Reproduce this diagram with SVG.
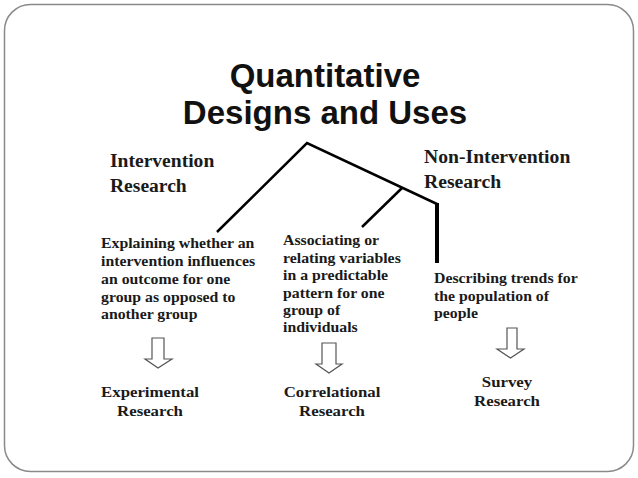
<svg xmlns="http://www.w3.org/2000/svg" width="638" height="478" viewBox="0 0 638 478">
<style>
.title{font-family:"Liberation Sans",Arial,sans-serif;font-weight:bold;font-size:33px;fill:#111;text-anchor:middle}
.head{font-family:"Liberation Serif","Times New Roman",serif;font-weight:bold;font-size:19px;fill:#1a1a1a}
.body{font-family:"Liberation Serif","Times New Roman",serif;font-weight:bold;font-size:14px;fill:#1a1a1a}
.lab{font-family:"Liberation Serif","Times New Roman",serif;font-weight:bold;font-size:15px;fill:#1a1a1a;text-anchor:middle}
.arrow{fill:#fff;stroke:#555;stroke-width:1.2}
.ln{stroke:#000;stroke-width:2.5;fill:none}
</style>
<rect x="4.5" y="4.5" width="629" height="467" rx="26" ry="26" fill="#fff" stroke="#8a8a8a" stroke-width="1.5"/>
<g id="title">
<text class="title" x="325" y="87">Quantitative</text>
<text class="title" x="325" y="124">Designs and Uses</text>
</g>
<g id="connectors">
<polyline class="ln" points="217,232 307,143 437,204"/>
<line class="ln" x1="402" y1="188" x2="362" y2="227"/>
<line x1="437" y1="203" x2="437" y2="263" stroke="#000" stroke-width="4"/>
<polygon class="arrow" points="152,338 164,338 164,359 172,359 158,368 145,359 152,359"/>
<polygon class="arrow" points="322,343 336,343 336,364 342,364 329,373 316,364 322,364"/>
<polygon class="arrow" points="507,328 517,328 517,349 524,349 510.5,358 497,349 507,349"/>
</g>
<g id="intervention" transform="translate(110 0) scale(1.03 1)">
<text class="head" x="0" y="167">Intervention</text>
<text class="head" x="0" y="192">Research</text>
</g>
<g id="non-intervention" transform="translate(424 0) scale(1.035 1)">
<text class="head" x="0" y="163">Non-Intervention</text>
<text class="head" x="0" y="188">Research</text>
</g>
<g id="explaining" transform="translate(101 0) scale(1.13 1)">
<text class="body" x="0" y="248">Explaining whether an</text>
<text class="body" x="0" y="266">intervention influences</text>
<text class="body" x="0" y="284">an outcome for one</text>
<text class="body" x="0" y="302">group as opposed to</text>
<text class="body" x="0" y="319">another group</text>
</g>
<g id="associating" transform="translate(283 0) scale(1.13 1)">
<text class="body" x="0" y="245">Associating or</text>
<text class="body" x="0" y="263">relating variables</text>
<text class="body" x="0" y="280">in a predictable</text>
<text class="body" x="0" y="298">pattern for one</text>
<text class="body" x="0" y="315">group of</text>
<text class="body" x="0" y="332">individuals</text>
</g>
<g id="describing" transform="translate(434 0) scale(1.13 1)">
<text class="body" x="0" y="283">Describing trends for</text>
<text class="body" x="0" y="301">the population of</text>
<text class="body" x="0" y="318">people</text>
</g>
<g id="experimental" transform="translate(150 0) scale(1.12 1)">
<text class="lab" x="0" y="397">Experimental</text>
<text class="lab" x="0" y="416">Research</text>
</g>
<g id="correlational" transform="translate(332 0) scale(1.12 1)">
<text class="lab" x="0" y="397">Correlational</text>
<text class="lab" x="0" y="416">Research</text>
</g>
<g id="survey" transform="translate(507 0) scale(1.12 1)">
<text class="lab" x="0" y="387">Survey</text>
<text class="lab" x="0" y="406">Research</text>
</g>
</svg>
